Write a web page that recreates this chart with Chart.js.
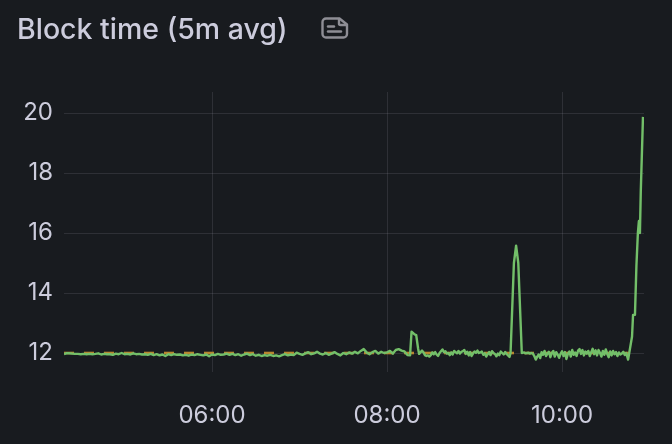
<!DOCTYPE html>
<html>
<head>
<meta charset="utf-8">
<script src="https://cdn.jsdelivr.net/npm/chart.js@4/dist/chart.umd.min.js"></script>
<style>
html,body{margin:0;padding:0;background:#181b1f;width:672px;height:444px;overflow:hidden}
#wrap{position:relative;width:672px;height:444px}
#title{position:absolute;left:17px;top:12px;font:500 28.5px/34px Inter,sans-serif;color:#ccccdc;white-space:nowrap}
#icon{position:absolute;left:321px;top:16px}
canvas{position:absolute;left:0;top:0}
</style>
</head>
<body>
<div id="wrap">
<canvas id="c" width="672" height="444"></canvas>
<div id="title">Block time (5m avg)</div>
<svg id="icon" width="28" height="24" viewBox="0 0 28 24" fill="none" stroke="#8e8e95" stroke-width="2.4" stroke-linecap="round" stroke-linejoin="round">
<path d="M5 2.5H18.5L26 8.5V18a3.5 3.5 0 0 1-3.5 3.5H5A3.5 3.5 0 0 1 1.5 18V6A3.5 3.5 0 0 1 5 2.5Z"/>
<path d="M18 3V7.5a1.5 1.5 0 0 0 1.5 1.5H25"/>
<path d="M7 10.5H13"/><path d="M7 15.5H20"/>
</svg>
</div>
<script>
const times = [
258.5,260,262,264,266,268,270,272,274,276,
278,280,282,284,286,288,290,292,294,296,
298,300,302,304,306,308,310,312,314,316,
318,320,322,324,326,328,330,332,334,336,
338,340,342,344,346,348,350,352,354,356,
358,360,362,364,366,368,370,372,374,376,
378,380,382,384,386,388,390,392,394,396,
398,400,402,404,406,408,410,412,414,416,
418,420,422,424,426,428,430,432,434,436,
438,440,442,444,446,448,450,452,454,456,
458,460,462,464,466,468,470,472,474,476,
478,480,482,484,486,488,490,492,494,495.8,
496.8,498.9,500,501.3,502,
504,505,506,507,508,509,510,511,512,513,
514,515,516,517,518,519,520,521,522,523,
524,525,526,527,528,529,530,531,532,533,
534,535,536,537,538,539,540,541,542,543,
544,545,546,547,548,549,550,551,552,553,
554,555,556,557,558,559,560,561,562,563,
564,564.7,567,568.5,570,571.2,572.4,
574,575,576,577,578,579,580,581,582,583,
584,585,586,587,588,589,590,591,592,593,
594,595,596,597,598,599,600,601,602,603,
604,605,606,607,608,609,610,611,612,613,
614,615,616,617,618,619,620,621,622,623,
624,625,626,627,628,629,630,631,632,633,
634,635,636,637,638,639,640,641,642,643,
644,645.3,648,648.7,650,651,652,652.7,653.4,654,655.5
];
const blockTime = [
11.96,11.99,11.99,11.98,11.97,11.97,11.96,11.97,11.96,11.97,
11.96,11.97,11.99,11.95,11.97,11.96,11.96,11.94,11.98,11.96,
12.00,11.96,11.97,11.95,11.99,11.96,11.97,11.95,11.96,11.94,
11.97,11.93,11.96,11.92,11.95,11.90,11.96,11.93,11.96,11.94,
11.95,11.92,11.94,11.91,11.95,11.93,11.96,11.94,11.92,11.95,
11.89,11.95,11.93,11.97,11.94,11.95,11.98,11.94,11.97,11.93,
11.96,11.91,11.95,11.98,11.93,11.96,11.91,11.94,11.90,11.93,
11.91,11.94,11.90,11.92,11.89,11.93,11.96,11.92,11.95,11.93,
12.01,11.97,11.94,11.99,12.03,11.96,11.99,12.04,11.98,11.95,
12.00,11.94,11.98,12.03,11.97,11.92,12.00,11.96,12.02,11.98,
12.04,11.99,12.07,12.13,12.02,11.96,12.03,12.07,11.98,12.04,
12.00,12.02,12.07,11.98,12.10,12.13,12.08,12.05,11.93,11.92,
12.71,12.62,12.60,12.15,11.97,
12.08,12.02,11.93,11.90,11.92,11.88,11.93,12.02,11.96,12.03,
11.95,11.90,12.00,12.06,12.12,12.03,12.06,11.98,12.00,11.93,
12.02,11.95,12.07,12.03,11.99,12.07,11.98,12.04,12.06,12.10,
11.97,12.04,11.92,12.03,11.90,11.99,12.05,12.01,12.08,12.00,
12.02,12.05,11.94,11.99,11.88,11.96,12.03,11.93,12.06,12.00,
11.97,11.89,11.98,11.93,12.05,12.00,11.95,12.03,11.97,11.92,
11.87,12.00,15.00,15.58,15.00,13.50,12.00,
12.02,11.99,12.00,12.01,11.98,12.00,11.98,11.90,11.78,11.88,
11.95,11.83,12.03,11.94,12.07,11.90,11.98,12.04,11.86,12.00,
12.07,11.88,12.03,11.95,11.84,11.97,12.06,11.90,12.03,11.80,
11.97,12.05,11.88,12.10,11.94,12.02,11.90,12.08,12.13,11.97,
12.10,11.92,12.05,11.98,12.07,11.90,12.02,12.14,11.96,12.09,
11.92,12.10,12.01,11.88,12.07,11.94,12.12,11.97,11.86,12.05,
11.92,12.07,11.96,12.03,11.90,12.02,11.95,11.98,12.04,11.93,
12.00,11.78,12.55,13.27,13.27,14.90,16.00,16.40,16.00,17.40,19.87
];
const targetTimes = [258.5, 646];
const targetValues = [12, 12];
const yTicks = [12, 14, 16, 18, 20];
const xTickStep = 120;

const GREEN = '#73bf69', ORANGE = '#b8862f', TEXT = '#ccccdc', GRID = 'rgba(204,204,220,0.12)';
const tickFont = {family: 'Inter, sans-serif', size: 24, weight: '400'};

new Chart(document.getElementById('c'), {
  type: 'line',
  data: {
    datasets: [
      {data: targetTimes.map((x, i) => ({x, y: targetValues[i]})), borderColor: ORANGE, borderWidth: 2.6,
       borderDash: [10, 10], pointRadius: 0, tension: 0, order: 2},
      {data: times.map((x, i) => ({x, y: blockTime[i]})), borderColor: GREEN, borderWidth: 2.4,
       pointRadius: 0, tension: 0, order: 1, borderJoinStyle: 'round'}
    ]
  },
  options: {
    responsive: false, animation: false, parsing: false, normalized: true,
    layout: {padding: {left: 0, right: 28, top: 92, bottom: 0}},
    plugins: {legend: {display: false}, title: {display: false}, tooltip: {enabled: false}},
    scales: {
      x: {
        type: 'linear', min: 258.5, max: 656.2,
        grid: {color: GRID, drawTicks: false, lineWidth: 1},
        border: {display: false},
        afterFit(s) { s.height = 72; },
        afterBuildTicks(s) { s.ticks = s.ticks.filter(t => t.value % xTickStep === 0); },
        ticks: {
          stepSize: xTickStep, includeBounds: false, autoSkip: false, maxRotation: 0, color: TEXT, font: tickFont, padding: 29,
          callback: v => String(Math.floor(v / 60)).padStart(2, '0') + ':' + String(v % 60).padStart(2, '0')
        }
      },
      y: {
        type: 'linear', min: 11.367, max: 20.7,
        grid: {color: GRID, drawTicks: false, lineWidth: 1},
        border: {display: false},
        afterFit(s) { s.width = 64; },
        afterBuildTicks(s) { s.ticks = yTicks.map(value => ({value})); },
        ticks: {stepSize: 2, includeBounds: false, color: TEXT, font: tickFont, padding: 11}
      }
    }
  }
});
</script>
</body>
</html>
